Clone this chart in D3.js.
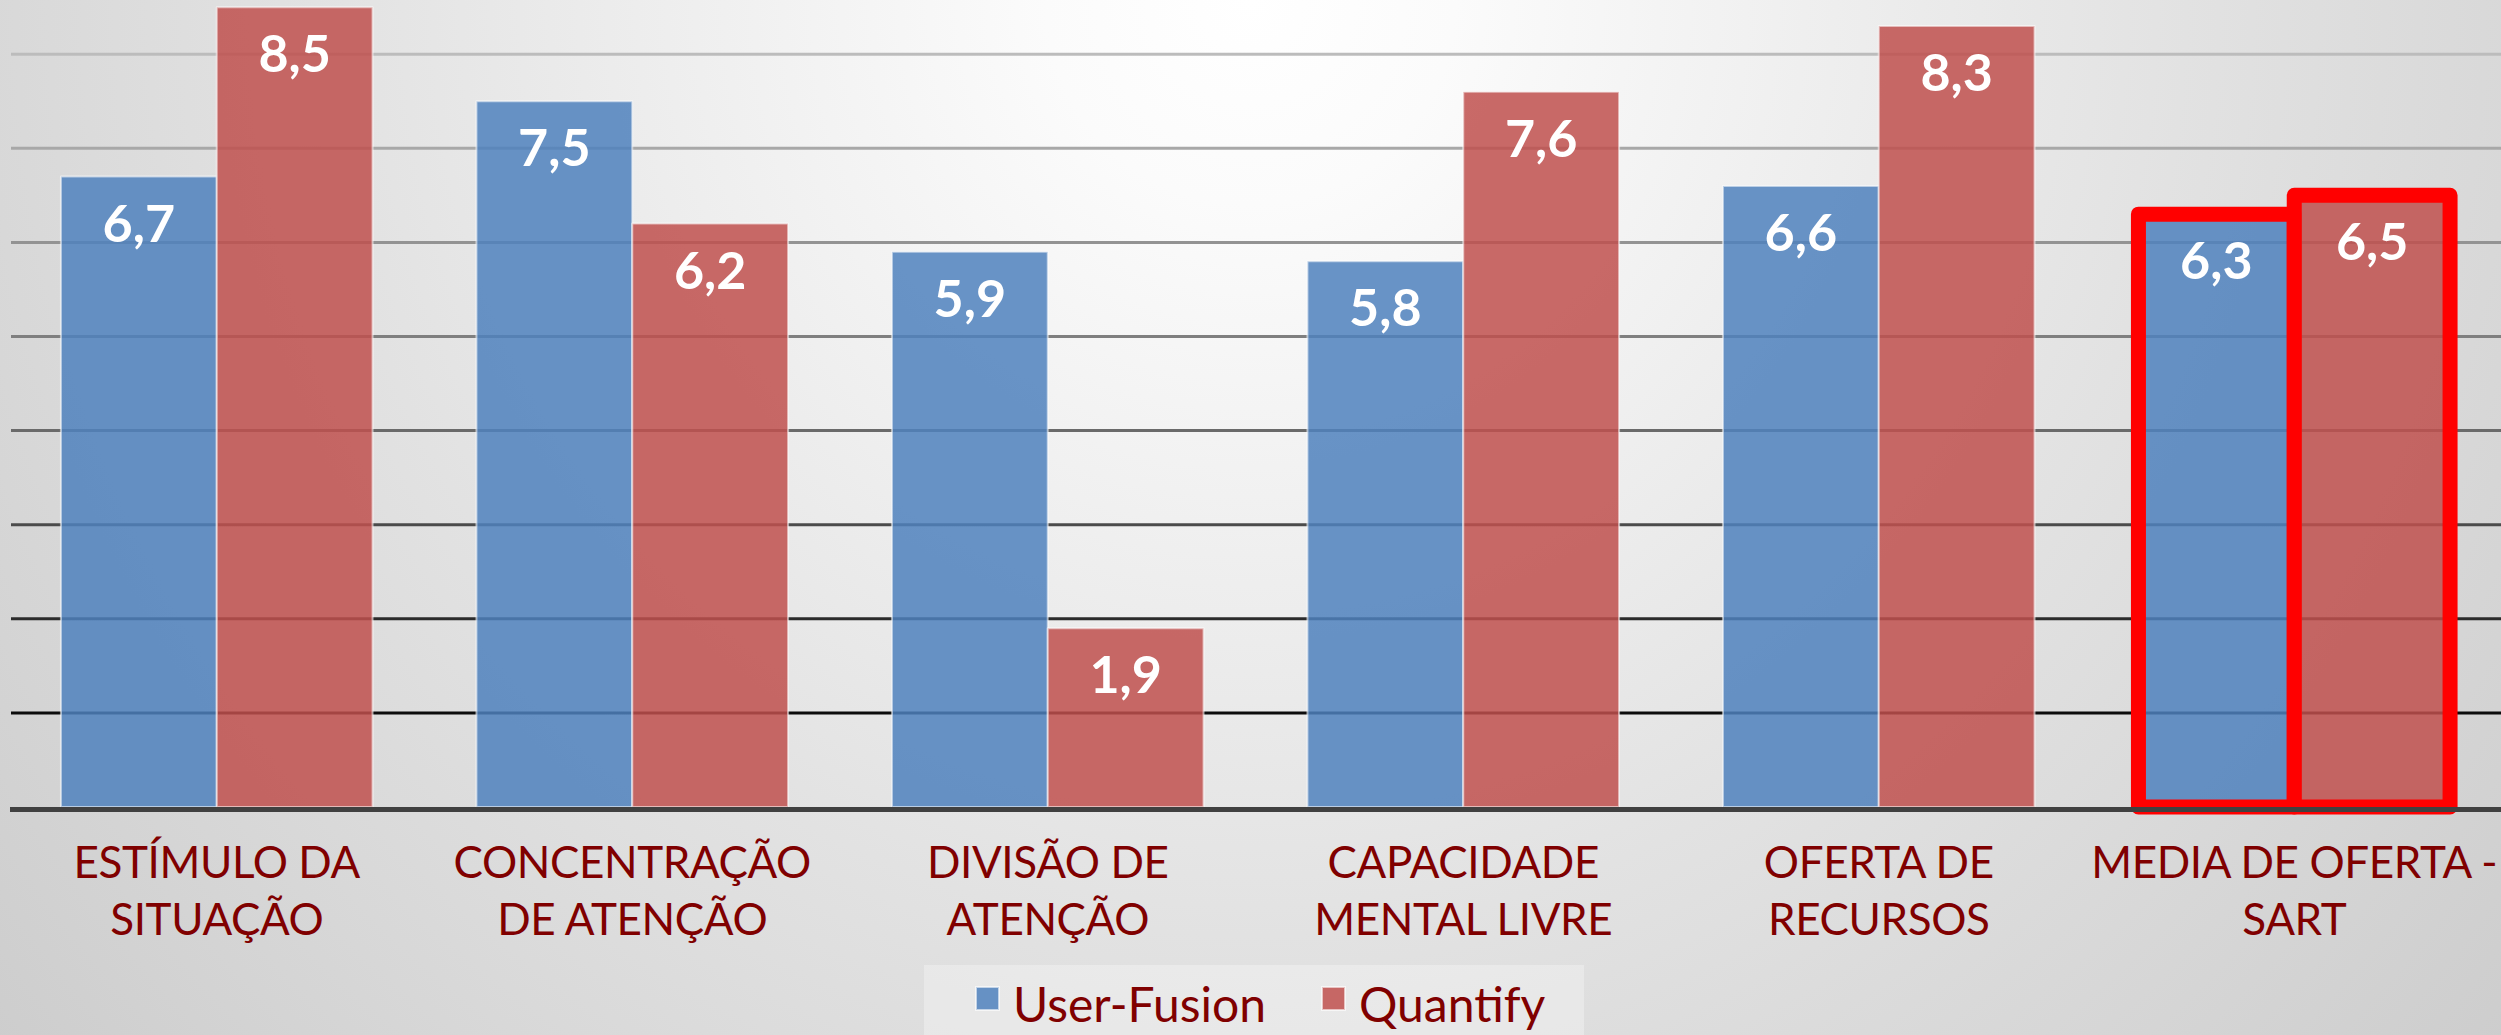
<!DOCTYPE html>
<html>
<head>
<meta charset="utf-8">
<script src="https://cdn.jsdelivr.net/npm/d3@7"></script>
<style>
  html, body { margin: 0; padding: 0; overflow: hidden; }
  svg { display: block; }
</style>
</head>
<body>
<div id="chart"></div>
<script>
// data
var categories = [
  ['ESTÍMULO DA', 'SITUAÇÃO'],
  ['CONCENTRAÇÃO', 'DE ATENÇÃO'],
  ['DIVISÃO DE', 'ATENÇÃO'],
  ['CAPACIDADE', 'MENTAL LIVRE'],
  ['OFERTA DE', 'RECURSOS'],
  ['MEDIA DE OFERTA -', 'SART']
];
var seriesNames = ['User-Fusion', 'Quantify'];
var userFusion = [6.7, 7.5, 5.9, 5.8, 6.6, 6.3];
var quantify = [8.5, 6.2, 1.9, 7.6, 8.3, 6.5];
var gridValues = [1, 2, 3, 4, 5, 6, 7, 8];
var highlighted = 'MEDIA DE OFERTA -';

var width = 2501, height = 1035;
var colors = ['#4f81bd', '#c0504d'];
var labelColor = '#800000';

var svg = d3.select('#chart').append('svg')
  .attr('width', width)
  .attr('height', height);

// background: white glow at the top centre fading to grey
var defs = svg.append('defs');
var bg = defs.append('radialGradient')
  .attr('id', 'bg')
  .attr('gradientUnits', 'userSpaceOnUse')
  .attr('cx', width / 2).attr('cy', 0).attr('r', 1700);
bg.append('stop').attr('offset', 0).attr('stop-color', '#ffffff');
bg.append('stop').attr('offset', 0.12).attr('stop-color', '#fbfbfb');
bg.append('stop').attr('offset', 0.55).attr('stop-color', '#e2e2e2');
bg.append('stop').attr('offset', 1).attr('stop-color', '#cbcbcb');

svg.append('rect')
  .attr('width', width).attr('height', height)
  .attr('fill', 'url(#bg)');

var keys = categories.map(function(c) { return c[0]; });
var rows = keys.map(function(k, i) {
  return { key: k, lines: categories[i], values: [userFusion[i], quantify[i]] };
});

var x0 = d3.scaleBand()
  .domain(keys)
  .range([9, 2502])
  .paddingInner(0.25)
  .paddingOuter(0.125);

var x1 = d3.scaleBand()
  .domain(seriesNames)
  .range([0, x0.bandwidth()]);

var y = d3.scaleLinear()
  .domain([0, 9])
  .range([807, 807 - 9 * 94.1]);

var gridColor = d3.scaleLinear()
  .domain([1, 4, 8])
  .range(['#0c0c0c', '#6a6a6a', '#bcbcbc']);

// gridlines
svg.append('g').selectAll('line')
  .data(gridValues)
  .enter().append('line')
  .attr('x1', 11)
  .attr('x2', width)
  .attr('y1', function(d) { return y(d); })
  .attr('y2', function(d) { return y(d); })
  .attr('stroke', function(d) { return gridColor(d); })
  .attr('stroke-width', 3);

// bars
var group = svg.append('g').selectAll('.cat')
  .data(rows)
  .enter().append('g')
  .attr('class', 'cat')
  .attr('transform', function(d) { return 'translate(' + x0(d.key) + ',0)'; });

var bar = group.selectAll('.bar')
  .data(function(d) {
    return d.values.map(function(v, i) {
      return { key: d.key, series: seriesNames[i], i: i, value: v };
    });
  })
  .enter().append('g')
  .attr('class', 'bar');

bar.append('rect')
  .attr('x', function(d) { return x1(d.series); })
  .attr('y', function(d) { return y(d.value); })
  .attr('width', x1.bandwidth())
  .attr('height', function(d) { return y(0) - y(d.value); })
  .attr('fill', function(d) { return colors[d.i]; })
  .attr('fill-opacity', 0.85)
  .attr('stroke', function(d) { return d.key === highlighted ? '#ff0000' : 'rgba(255,255,255,0.55)'; })
  .attr('stroke-width', function(d) { return d.key === highlighted ? 15 : 2; })
  .attr('stroke-linejoin', 'round');

bar.append('text')
  .attr('x', function(d) { return x1(d.series) + x1.bandwidth() / 2; })
  .attr('y', function(d) { return y(d.value) + 65; })
  .attr('text-anchor', 'middle')
  .attr('font-family', 'Lato, "Open Sans", sans-serif')
  .attr('font-weight', 'bold')
  .attr('font-size', 52)
  .attr('fill', '#ffffff')
  .text(function(d) { return String(d.value).replace('.', ','); });

// baseline
svg.append('line')
  .attr('x1', 10).attr('x2', width)
  .attr('y1', y(0) + 2.5).attr('y2', y(0) + 2.5)
  .attr('stroke', '#404040')
  .attr('stroke-width', 5);

// category labels, two lines each
var catLabel = svg.append('g').selectAll('text')
  .data(rows)
  .enter().append('text')
  .attr('text-anchor', 'middle')
  .attr('font-family', 'Lato, "Open Sans", sans-serif')
  .attr('font-size', 44)
  .attr('letter-spacing', -0.4)
  .attr('fill', labelColor)
  .attr('transform', function(d) { return 'translate(' + (x0(d.key) + x0.bandwidth() / 2) + ',0)'; });

catLabel.selectAll('tspan')
  .data(function(d) { return d.lines; })
  .enter().append('tspan')
  .attr('x', 0)
  .attr('y', function(d, i) { return 878 + i * 57; })
  .text(function(d) { return d; });

// legend
var legend = svg.append('g');
legend.append('rect')
  .attr('x', 924).attr('y', 965)
  .attr('width', 660).attr('height', 80)
  .attr('fill', '#ffffff')
  .attr('fill-opacity', 0.3);

var legendX = [976, 1322];
var item = legend.selectAll('.item')
  .data(seriesNames)
  .enter().append('g')
  .attr('class', 'item')
  .attr('transform', function(d, i) { return 'translate(' + legendX[i] + ',0)'; });

item.append('rect')
  .attr('x', 0).attr('y', 987)
  .attr('width', 23).attr('height', 23)
  .attr('fill', function(d, i) { return colors[i]; })
  .attr('fill-opacity', 0.85)
  .attr('stroke', 'rgba(255,255,255,0.6)')
  .attr('stroke-width', 2);

item.append('text')
  .attr('x', 37).attr('y', 1022)
  .attr('font-family', 'Lato, "Open Sans", sans-serif')
  .attr('font-size', 48)
  .attr('fill', labelColor)
  .text(function(d) { return d; });
</script>
</body>
</html>
